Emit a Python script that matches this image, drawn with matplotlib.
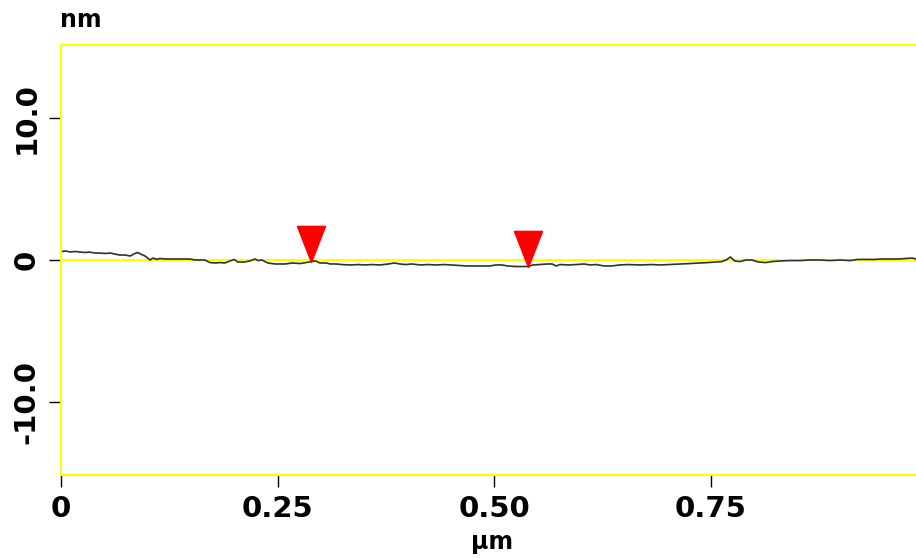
import matplotlib.pyplot as plt
import numpy as np

# section profile: distance (um) and height (nm)
pos_um = [0.000, 0.006, 0.010, 0.016, 0.022, 0.028, 0.033, 0.039, 0.045, 0.051,
          0.057, 0.062, 0.068, 0.074, 0.080, 0.084, 0.088, 0.092, 0.097, 0.103,
          0.106, 0.111, 0.114, 0.120, 0.132, 0.149, 0.155, 0.166, 0.172, 0.178,
          0.184, 0.189, 0.195, 0.200, 0.204, 0.212, 0.218, 0.224, 0.228, 0.232,
          0.239, 0.247, 0.259, 0.267, 0.276, 0.283, 0.289, 0.294, 0.299, 0.306,
          0.311, 0.318, 0.324, 0.334, 0.343, 0.351, 0.359, 0.368, 0.378, 0.385,
          0.391, 0.398, 0.405, 0.415, 0.424, 0.433, 0.442, 0.451, 0.461, 0.468,
          0.484, 0.495, 0.502, 0.509, 0.516, 0.525, 0.532, 0.539, 0.545, 0.553,
          0.562, 0.567, 0.572, 0.576, 0.586, 0.595, 0.604, 0.611, 0.618, 0.627,
          0.636, 0.645, 0.655, 0.669, 0.682, 0.692, 0.703, 0.715, 0.726, 0.738,
          0.747, 0.756, 0.763, 0.768, 0.773, 0.778, 0.784, 0.791, 0.798, 0.805,
          0.814, 0.821, 0.830, 0.842, 0.853, 0.865, 0.876, 0.888, 0.900, 0.911,
          0.920, 0.930, 0.939, 0.948, 0.957, 0.967, 0.976, 0.983, 0.987]
height_nm = [0.60, 0.63, 0.56, 0.60, 0.56, 0.53, 0.56, 0.49, 0.49, 0.46,
             0.49, 0.42, 0.35, 0.35, 0.28, 0.42, 0.53, 0.42, 0.28, 0.00,
             0.14, 0.04, 0.11, 0.07, 0.07, 0.07, 0.00, 0.00, -0.18, -0.21,
             -0.18, -0.21, -0.07, 0.04, -0.14, -0.14, -0.07, 0.07, -0.04, 0.00,
             -0.21, -0.28, -0.28, -0.21, -0.25, -0.18, -0.11, -0.07, -0.21, -0.21,
             -0.28, -0.28, -0.32, -0.35, -0.32, -0.35, -0.32, -0.35, -0.28, -0.21,
             -0.28, -0.32, -0.28, -0.35, -0.32, -0.35, -0.32, -0.35, -0.39, -0.42,
             -0.42, -0.42, -0.35, -0.35, -0.42, -0.46, -0.46, -0.46, -0.35, -0.32,
             -0.28, -0.28, -0.42, -0.32, -0.35, -0.32, -0.28, -0.35, -0.32, -0.42,
             -0.42, -0.35, -0.32, -0.35, -0.32, -0.35, -0.32, -0.28, -0.25, -0.21,
             -0.18, -0.14, -0.11, 0.00, 0.21, -0.07, -0.11, 0.00, 0.00, -0.14,
             -0.18, -0.11, -0.07, -0.04, -0.04, 0.00, 0.00, -0.04, 0.00, -0.04,
             0.04, 0.04, 0.04, 0.07, 0.07, 0.07, 0.11, 0.14, 0.07]

# cursor positions (um)
cursor_um = [0.289, 0.539]

x_ticks = [0, 0.25, 0.50, 0.75]
x_ticklabels = ['0', '0.25', '0.50', '0.75']
y_ticks = [-10, 0, 10]
y_ticklabels = ['-10.0', '0', '10.0']

yellow = '#ffff00'

fig = plt.figure(figsize=(9.16, 5.58), dpi=100)
ax = fig.add_axes([61 / 916, 83 / 558, 855 / 916, 430 / 558])

ax.axhline(0, color=yellow, lw=1.5, zorder=1)
ax.plot(pos_um, height_nm, color='#303030', lw=1.2, zorder=2)

# downward triangles with the tip sitting on the profile
tri = [(-0.78, 2.0), (0.78, 2.0), (0.0, 0.0), (-0.78, 2.0)]
cursor_z = np.interp(cursor_um, pos_um, height_nm)
ax.plot(cursor_um, cursor_z, ls='none', marker=tri, markersize=52,
        markerfacecolor='#ff0000', markeredgecolor='#ff0000', zorder=3)

ax.set_xlim(0, 855 / 866)
ax.set_ylim(-15.14, 15.14)

for side in ['top', 'left', 'bottom']:
    ax.spines[side].set_color(yellow)
    ax.spines[side].set_linewidth(1.5)
ax.spines['right'].set_visible(False)

ax.set_xticks(x_ticks)
ax.set_xticklabels(x_ticklabels, fontsize=21, fontweight='bold')
ax.set_yticks(y_ticks)
ax.set_yticklabels(y_ticklabels, fontsize=21, fontweight='bold',
                   rotation=90, va='center')
ax.tick_params(direction='out', length=8.5, width=1, color='black', pad=6)

fig.text(60 / 916, 1 - 27 / 558, 'nm', fontsize=17, fontweight='bold')
fig.text(492 / 916, 1 - 549 / 558, 'µm', fontsize=17, fontweight='bold',
         ha='center', va='baseline')

fig.savefig('out.png', dpi=100)
